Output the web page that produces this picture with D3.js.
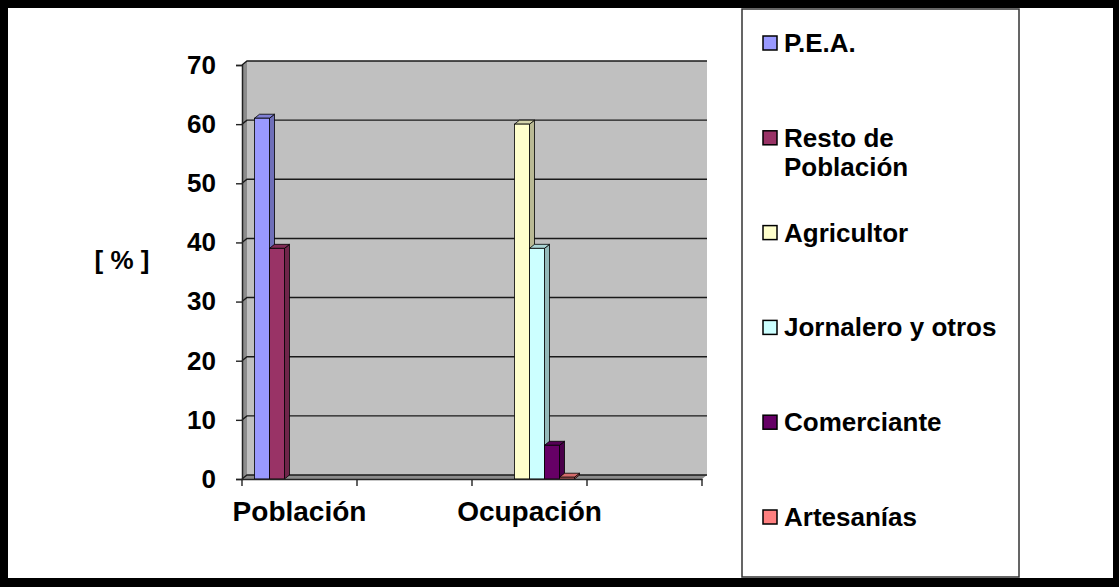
<!DOCTYPE html>
<html>
<head>
<meta charset="utf-8">
<script src="https://cdn.jsdelivr.net/npm/d3@7"></script>
<style>
  body { margin: 0; background: #000; }
  text { font-family: "Liberation Sans", Arial, sans-serif; font-weight: bold; fill: #000; }
</style>
</head>
<body>
<div id="chart"></div>
<script>
// categories on the x axis (two of them are empty slots, as in the original)
var categories = ["Población", "", "Ocupación", ""];
var seriesNames = ["P.E.A.", "Resto de Población", "Agricultor", "Jornalero y otros", "Comerciante", "Artesanías"];
var seriesColors = ["#9999FF", "#993366", "#FFFFCC", "#CCFFFF", "#660066", "#FF8080"];

var pea         = [61, null, null, null];
var resto       = [39, null, null, null];
var agricultor  = [null, null, 60, null];
var jornalero   = [null, null, 39, null];
var comerciante = [null, null, 5.7, null];
var artesanias  = [null, null, 0.3, null];

var yTicks = [0, 10, 20, 30, 40, 50, 60, 70];

var seriesValues = [pea, resto, agricultor, jornalero, comerciante, artesanias];

var W = 1119, H = 587;
var svg = d3.select("#chart").append("svg").attr("width", W).attr("height", H);

// white page inside the black frame
svg.append("rect").attr("x", 8).attr("y", 8).attr("width", 1105).attr("height", 570).attr("fill", "#fff");

// depth of the 3d effect
var dx = 5, dy = -4;

var x = d3.scaleBand().domain(d3.range(categories.length)).range([242, 702]).padding(0);
var y = d3.scaleLinear().domain([0, 70]).range([479, 65]);
var bw = x.bandwidth();
var slot = 15;
var xs = d3.scaleBand().domain(d3.range(seriesNames.length)).range([(bw - slot * 6) / 2, (bw + slot * 6) / 2]);

var x0 = x.range()[0], x1 = x.range()[1];

// back wall
svg.append("rect")
  .attr("x", x0 + dx).attr("y", y(70) + dy)
  .attr("width", x1 - x0).attr("height", y(0) - y(70))
  .attr("fill", "#c0c0c0");

// left side wall
svg.append("polygon")
  .attr("points", [[x0, y(70)], [x0 + dx, y(70) + dy], [x0 + dx, y(0) + dy], [x0, y(0)]].join(" "))
  .attr("fill", "#8c8c8c");

// floor
svg.append("polygon")
  .attr("points", [[x0, y(0)], [x0 + dx, y(0) + dy], [x1 + dx, y(0) + dy], [x1, y(0)]].join(" "))
  .attr("fill", "#8c8c8c");

// gridlines on the side and back walls
svg.append("g").selectAll("polyline")
  .data(yTicks)
  .enter().append("polyline")
    .attr("points", function(d) {
      return [[x0, y(d)], [x0 + dx, y(d) + dy], [x1 + dx, y(d) + dy]].join(" ");
    })
    .attr("fill", "none")
    .attr("stroke", "#1a1a1a")
    .attr("stroke-width", 1.4);

// bars
var bars = [];
seriesValues.forEach(function(vals, s) {
  vals.forEach(function(v, c) {
    if (v != null) bars.push({ s: s, c: c, v: v });
  });
});

var g = svg.append("g").selectAll("g.bar")
  .data(bars)
  .enter().append("g").attr("class", "bar");

g.each(function(d) {
  var el = d3.select(this);
  var bx = x(d.c) + xs(d.s), bx2 = bx + slot;
  var top = y(d.v), bot = y(0);
  var col = seriesColors[d.s];
  // side face
  el.append("polygon")
    .attr("points", [[bx2, top], [bx2 + dx, top + dy], [bx2 + dx, bot + dy], [bx2, bot]].join(" "))
    .attr("fill", d3.rgb(col).darker(0.9))
    .attr("stroke", "#000").attr("stroke-width", 0.8);
  // top face
  el.append("polygon")
    .attr("points", [[bx, top], [bx + dx, top + dy], [bx2 + dx, top + dy], [bx2, top]].join(" "))
    .attr("fill", d3.rgb(col).darker(0.5))
    .attr("stroke", "#000").attr("stroke-width", 0.8);
  // front face
  el.append("rect")
    .attr("x", bx).attr("y", top)
    .attr("width", slot).attr("height", bot - top)
    .attr("fill", col)
    .attr("stroke", "#000").attr("stroke-width", 0.8);
});

// y axis
var yAxis = svg.append("g")
  .attr("transform", "translate(" + x0 + ",0)")
  .call(d3.axisLeft(y).tickValues(yTicks).tickSize(6).tickPadding(20));
yAxis.select(".domain").attr("stroke", "#222").attr("stroke-width", 1.5);
yAxis.selectAll(".tick line").attr("stroke", "#222").attr("stroke-width", 1.4);
yAxis.selectAll(".tick text")
  .style("font-family", "'Liberation Sans', Arial, sans-serif")
  .style("font-weight", "bold")
  .style("font-size", "26px")
  .attr("fill", "#000");

// x axis
var xAxis = svg.append("g")
  .attr("transform", "translate(0," + y(0) + ")")
  .call(d3.axisBottom(x).tickFormat(function(i) { return categories[i]; }).tickSize(0).tickPadding(22));
xAxis.select(".domain").attr("stroke", "#222").attr("stroke-width", 1.5);
xAxis.selectAll(".tick text")
  .style("font-family", "'Liberation Sans', Arial, sans-serif")
  .style("font-weight", "bold")
  .style("font-size", "28px")
  .attr("fill", "#000");

// tick marks between categories
var bounds = d3.range(categories.length).map(function(i) { return x(i); }).concat([x1]);
svg.append("g").selectAll("line")
  .data(bounds)
  .enter().append("line")
    .attr("x1", function(d) { return d; }).attr("x2", function(d) { return d; })
    .attr("y1", y(0)).attr("y2", y(0) + 7)
    .attr("stroke", "#222").attr("stroke-width", 1.4);

// y axis title
svg.append("text")
  .attr("x", 122).attr("y", 262)
  .attr("text-anchor", "middle")
  .attr("dominant-baseline", "middle")
  .style("font-size", "26px")
  .text("[ % ]");

// legend
svg.append("rect")
  .attr("x", 742).attr("y", 9).attr("width", 277).attr("height", 568)
  .attr("fill", "#fff").attr("stroke", "#333").attr("stroke-width", 1.5);

var legendLines = [["P.E.A."], ["Resto de", "Población"], ["Agricultor"], ["Jornalero y otros"], ["Comerciante"], ["Artesanías"]];
var legendY = d3.scaleLinear().domain([0, 5]).range([43, 517]);

var leg = svg.append("g").selectAll("g")
  .data(seriesNames)
  .enter().append("g")
    .attr("transform", function(d, i) { return "translate(763," + legendY(i) + ")"; });

leg.append("rect")
  .attr("x", 0).attr("y", -7).attr("width", 14).attr("height", 14)
  .attr("fill", function(d, i) { return seriesColors[i]; })
  .attr("stroke", "#000").attr("stroke-width", 1.5);

leg.append("text")
  .attr("x", 21)
  .style("font-size", "26px")
  .selectAll("tspan")
  .data(function(d, i) { return legendLines[i]; })
  .enter().append("tspan")
    .attr("x", 21)
    .attr("y", function(d, j) { return 9 + j * 29; })
    .text(function(d) { return d; });
</script>
</body>
</html>
